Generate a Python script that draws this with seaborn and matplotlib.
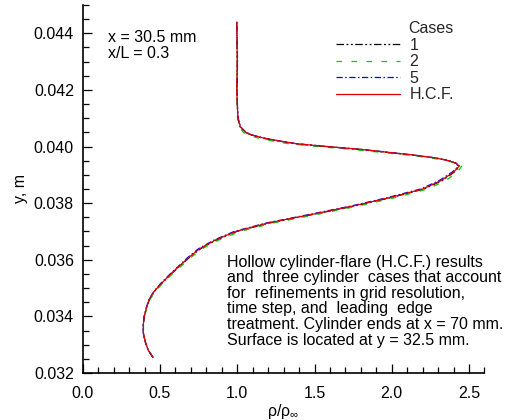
import matplotlib
matplotlib.use("Agg")
import matplotlib.pyplot as plt
import seaborn as sns
from matplotlib.ticker import MultipleLocator, FuncFormatter

# ---- data ----
y_m = [0.03255, 0.0328, 0.0331, 0.0334, 0.0337, 0.0340, 0.0343, 0.0346, 0.0349,
       0.0352, 0.0355, 0.0358, 0.0361, 0.0364, 0.0367, 0.0370, 0.0373, 0.0376,
       0.0379, 0.0382, 0.0385, 0.0388, 0.0391, 0.0393, 0.0394, 0.0395, 0.0396,
       0.0397, 0.0398, 0.0399, 0.0400, 0.0401, 0.0402, 0.0403, 0.0404, 0.0405,
       0.0407, 0.0410, 0.0415, 0.0420, 0.0430, 0.0440, 0.0444]

rho_hcf = [0.455, 0.425, 0.405, 0.393, 0.392, 0.398, 0.412, 0.430, 0.465,
           0.515, 0.570, 0.630, 0.690, 0.760, 0.860, 0.990, 1.200, 1.480,
           1.750, 1.990, 2.200, 2.320, 2.400, 2.435, 2.420, 2.370, 2.280,
           2.140, 1.970, 1.800, 1.580, 1.380, 1.270, 1.170, 1.100, 1.055,
           1.020, 1.005, 1.000, 0.997, 1.000, 0.998, 0.997]

rho_case1 = [0.455, 0.425, 0.404, 0.393, 0.392, 0.399, 0.413, 0.432, 0.467,
             0.518, 0.573, 0.633, 0.694, 0.765, 0.866, 0.997, 1.208, 1.488,
             1.758, 1.998, 2.207, 2.327, 2.405, 2.438, 2.422, 2.368, 2.275,
             2.132, 1.960, 1.790, 1.570, 1.372, 1.262, 1.163, 1.095, 1.052,
             1.018, 1.004, 1.000, 0.998, 1.000, 0.998, 0.997]

rho_case2 = [0.456, 0.426, 0.406, 0.394, 0.393, 0.400, 0.415, 0.436, 0.472,
             0.524, 0.580, 0.642, 0.704, 0.777, 0.882, 1.018, 1.232, 1.515,
             1.785, 2.025, 2.232, 2.350, 2.425, 2.452, 2.425, 2.355, 2.250,
             2.100, 1.920, 1.740, 1.520, 1.330, 1.225, 1.135, 1.075, 1.040,
             1.012, 1.002, 1.000, 0.998, 1.001, 0.999, 0.998]

rho_case5 = [0.454, 0.424, 0.404, 0.392, 0.391, 0.397, 0.411, 0.429, 0.462,
             0.511, 0.566, 0.625, 0.684, 0.752, 0.851, 0.980, 1.188, 1.466,
             1.737, 1.975, 2.187, 2.308, 2.392, 2.430, 2.418, 2.370, 2.282,
             2.143, 1.973, 1.802, 1.583, 1.383, 1.272, 1.172, 1.102, 1.057,
             1.021, 1.006, 1.001, 0.999, 1.002, 0.999, 0.997]

case_labels = ["1", "2", "5", "H.C.F."]
case_colors = ["#000000", "#00cc00", "#0000ff", "#e00000"]
case_styles = [(0, (6, 2, 1.5, 2, 1.5, 2)), (0, (4.5, 7.5)), (0, (5, 2, 1.2, 2)), "-"]

x_ticks = [0.0, 0.5, 1.0, 1.5, 2.0, 2.5]
x_tick_labels = ["0.0", "0.5", "1.0", "1.5", "2.0", "2.5"]
y_ticks = [0.032, 0.034, 0.036, 0.038, 0.040, 0.042, 0.044]
y_tick_labels = ["0.032", "0.034", "0.036", "0.038", "0.040", "0.042", "0.044"]

note_top = "x = 30.5 mm\nx/L = 0.3"
note_body = ("Hollow cylinder-flare (H.C.F.) results\n"
             "and  three cylinder  cases that account\n"
             "for  refinements in grid resolution,\n"
             "time step, and  leading  edge\n"
             "treatment. Cylinder ends at x = 70 mm.\n"
             "Surface is located at y = 32.5 mm.")

# ---- style ----
FS = 11.5
sns.set_theme(style="ticks")
plt.rcParams["font.family"] = ["Liberation Sans", "DejaVu Sans"]
plt.rcParams["mathtext.fontset"] = "custom"
plt.rcParams["mathtext.rm"] = "Liberation Sans"
plt.rcParams["mathtext.it"] = "Liberation Sans"
plt.rcParams["xtick.direction"] = "in"
plt.rcParams["ytick.direction"] = "in"

fig = plt.figure(figsize=(5.09, 4.20), dpi=100)
ax = fig.add_axes([82.7 / 509, 1 - 373 / 420, (484.5 - 82.7) / 509, (373 - 5) / 420])

series = [rho_case1, rho_case2, rho_case5, rho_hcf]
for xs, lab, col, ls in zip(series, case_labels, case_colors, case_styles):
    sns.lineplot(x=xs, y=y_m, sort=False, estimator=None, ax=ax, color=col,
                 linestyle=ls, linewidth=0.9, label=lab)

ax.set_xlim(0.0, 2.6)
ax.set_ylim(0.032, 0.045)
x_lab = dict(zip(x_ticks, x_tick_labels))
y_lab = dict(zip(y_ticks, y_tick_labels))
ax.xaxis.set_major_locator(MultipleLocator(x_ticks[1] - x_ticks[0]))
ax.yaxis.set_major_locator(MultipleLocator(y_ticks[1] - y_ticks[0]))
ax.xaxis.set_major_formatter(FuncFormatter(
    lambda v, p: x_lab.get(round(v, 1), "")))
ax.yaxis.set_major_formatter(FuncFormatter(
    lambda v, p: y_lab.get(round(v, 3), "")))
ax.xaxis.set_minor_locator(MultipleLocator(0.1))
ax.yaxis.set_minor_locator(MultipleLocator(0.0005))

for s in ["top", "right"]:
    ax.spines[s].set_visible(False)

ax.tick_params(axis="both", which="major", direction="in", length=6.5, width=0.9,
               color="black", labelcolor="black", labelsize=FS, left=True, bottom=True)
ax.tick_params(axis="both", which="minor", direction="in", length=4.5, width=0.9,
               color="black", left=True, bottom=True)
ax.tick_params(axis="y", which="major", pad=6.3)
ax.tick_params(axis="x", which="major", pad=9)
for t in (ax.xaxis.get_major_ticks() + ax.yaxis.get_major_ticks()
          + ax.xaxis.get_minor_ticks() + ax.yaxis.get_minor_ticks()):
    t.tick1line.set_visible(True)

ax.set_xlabel(r"ρ/ρ$_{\infty}$", fontsize=FS, color="black", labelpad=1)
ax.set_ylabel("y, m", fontsize=FS, color="black", labelpad=4)

ax.text(0.063, 0.932, note_top, transform=ax.transAxes, ha="left", va="top",
        fontsize=FS, linespacing=1.05, color="black")
ax.text(0.358, 0.322, note_body, transform=ax.transAxes, ha="left", va="top",
        fontsize=FS, linespacing=1.05, color="black")

leg = ax.legend(loc="upper left", bbox_to_anchor=(336 / 509, 1 - 21 / 420),
                bbox_transform=fig.transFigure, frameon=False, fontsize=FS,
                title="Cases", title_fontsize=FS, alignment="right",
                handlelength=4.0, handletextpad=0.6, labelspacing=0.1,
                borderpad=0, borderaxespad=0)

for s in ["left", "bottom"]:
    ax.spines[s].set_color("black")
    ax.spines[s].set_linewidth(1.2)

fig.savefig("out.png", dpi=100)
